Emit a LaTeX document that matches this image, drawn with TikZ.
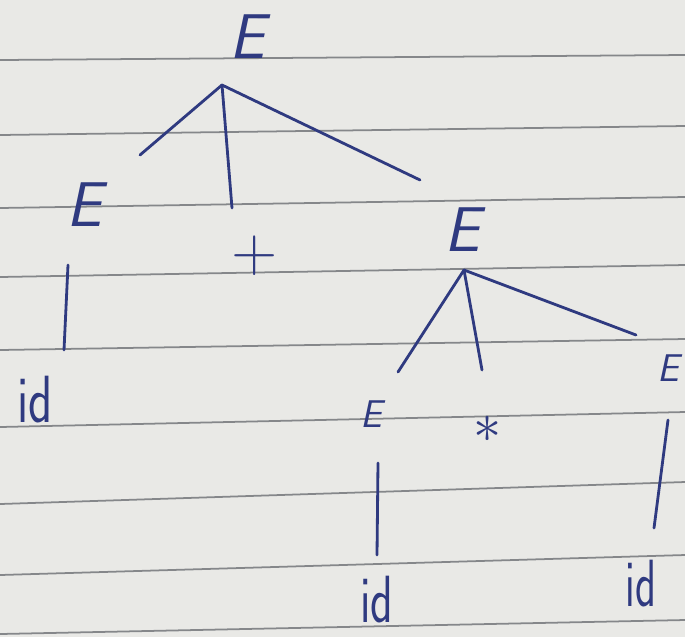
\documentclass[tikz,border=0pt]{standalone}
\usepackage{tikz}
\usetikzlibrary{calc}
\definecolor{paper}{HTML}{E9E9E6}
\definecolor{ruleline}{HTML}{85878A}
\definecolor{ink}{HTML}{2F3A80}

\begin{document}
\begin{tikzpicture}[x=0.02cm, y=-0.02cm,
    sym/.style={text=ink, inner sep=0pt, font=\fontsize{36}{36}\selectfont\sffamily\slshape},
    symsmall/.style={sym, font=\fontsize{22}{22}\selectfont\sffamily\slshape},
    leaf/.style={text=ink, inner sep=0pt, font=\fontsize{38}{38}\selectfont\sffamily},
    edge/.style={ink, line width=1.6pt, line cap=round},
    ruling/.style={ruleline, line width=1pt}
  ]
    % Paper and ruled lines
    \fill[paper] (0,0) rectangle (685,637);
    \useasboundingbox (0,0) rectangle (685,637);
    \foreach \l/\r in {60/55, 135/126, 208/197, 277/265, 350/339, 427/412, 504/482, 575/555, 634/620}
      \draw[ruling] (0,\l) -- (685,\r);

    % Top level
    \node[sym] (root) at (247,37) {E};
    \node[sym] (eL) at (84,205) {E};
    \node[sym, font=\fontsize{36}{36}\selectfont\sffamily] (plus) at (255,256) {+};
    \node[sym] (eR) at (462,230) {E};
    \node[leaf] (id1) at (35,400) {\scalebox{0.75}[1]{id}};

    % Right subtree
    \node[symsmall] (eRL) at (371,414) {E};
    \node[text=ink, inner sep=0pt] (star) at (488,429) {\scalebox{3.2}{$\ast$}};
    \node[symsmall] (eRR) at (668,368) {E};
    \node[leaf] (id2) at (377,600) {\scalebox{0.7}[1]{id}};
    \node[leaf] (id3) at (641,584) {\scalebox{0.65}[1]{id}};

    % Branches
    \coordinate (rootFork) at ($(root)+(-25,48)$);
    \coordinate (eRFork) at ($(eR)+(2,40)$);
    \draw[edge] (rootFork) -- ($(eL)+(56,-50)$);
    \draw[edge] (rootFork) -- ($(plus)+(-23,-48)$);
    \draw[edge] (rootFork) -- ($(eR)+(-42,-50)$);
    \draw[edge] ($(eL)+(-16,60)$) -- ($(id1)+(29,-50)$);
    \draw[edge] (eRFork) -- ($(eRL)+(27,-42)$);
    \draw[edge] (eRFork) -- ($(star)+(-6,-59)$);
    \draw[edge] (eRFork) -- ($(eRR)+(-32,-33)$);
    \draw[edge] ($(eRL)+(7,49)$) -- ($(id2)+(0,-45)$);
    \draw[edge] ($(eRR)+(0,52)$) -- ($(id3)+(13,-56)$);
  \end{tikzpicture}
\end{document}
